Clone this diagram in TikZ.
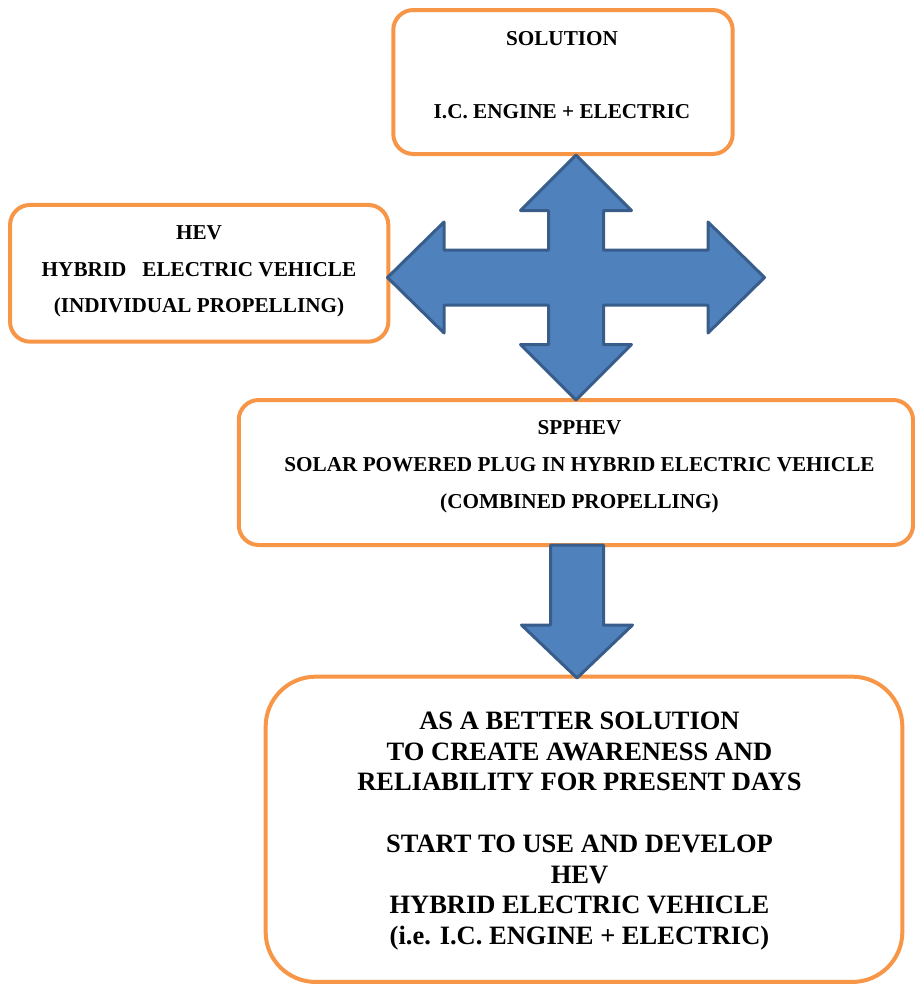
\documentclass[tikz,border=0pt]{standalone}
\usepackage{fontspec}
\setmainfont{Liberation Serif}
\definecolor{boxorange}{HTML}{F79646}
\definecolor{arrowfill}{HTML}{4F81BD}
\definecolor{arrowline}{HTML}{385D8A}
\tikzset{
  box/.style={draw=boxorange, line width=4pt, fill=white, rounded corners=20pt, inner sep=0pt},
  bigbox/.style={box, rounded corners=50pt},
  bigarrow/.style={fill=arrowfill, draw=arrowline, line width=3pt, line join=round},
  smalltext/.style={font=\bfseries\fontsize{21.2}{36.8}\selectfont, align=center, inner sep=0pt},
  bigtext/.style={font=\bfseries\fontsize{26.5}{30.7}\selectfont, align=center, inner sep=0pt},
}
\begin{document}
\begin{tikzpicture}[x=1pt,y=-1pt]
\useasboundingbox (0,0) rectangle (915,986);
% boxes
\node[box, minimum width=339.4pt, minimum height=144pt] (sol) at (563,82) {};
\node[box, minimum width=378.3pt, minimum height=136.7pt] (hev) at (199.2,273.3) {};
\node[box, minimum width=674.3pt, minimum height=145pt] (spphev) at (575.9,472.5) {};
\node[bigbox, minimum width=636.7pt, minimum height=305.3pt] (final) at (584,829.3) {};
% texts
\node[smalltext] (soltext) at (562,75) {SOLUTION\\ \\I.C. ENGINE + ELECTRIC};
\node[smalltext] (hevtext) at (199,271.5) {HEV\\HYBRID\ \ \ ELECTRIC VEHICLE\\(INDIVIDUAL PROPELLING)};
\node[smalltext] (spphevtext) at (579.5,466.5) {SPPHEV\\SOLAR POWERED PLUG IN HYBRID ELECTRIC VEHICLE\\(COMBINED PROPELLING)};
\node[bigtext] (finaltext) at (579.5,831) {AS A BETTER SOLUTION\\TO CREATE AWARENESS AND\\RELIABILITY FOR PRESENT DAYS\\ \\START TO USE AND DEVELOP\\HEV\\HYBRID ELECTRIC VEHICLE\\(i.e. I.C. ENGINE + ELECTRIC)};
% four-way arrow
\coordinate (cross) at (576,277.5);
\draw[bigarrow, shift={(cross)}]
  (0,-122.5) -- (55.5,-67) -- (27.5,-67) -- (27.5,-27.5) -- (132,-27.5) -- (132,-55.5)
  -- (188.5,0) -- (132,55.5) -- (132,27.5) -- (27.5,27.5) -- (27.5,67) -- (55.5,67)
  -- (0,122.5) -- (-55.5,67) -- (-27.5,67) -- (-27.5,27.5) -- (-132,27.5) -- (-132,55.5)
  -- (-188.5,0) -- (-132,-55.5) -- (-132,-27.5) -- (-27.5,-27.5) -- (-27.5,-67) -- (-55.5,-67) -- cycle;
% down arrow
\coordinate (downtop) at (577,545);
\draw[bigarrow, shift={(downtop)}]
  (-26.5,0) -- (26.5,0) -- (26.5,80) -- (55.5,80) -- (0,133) -- (-55.5,80) -- (-26.5,80) -- cycle;
\end{tikzpicture}
\end{document}
